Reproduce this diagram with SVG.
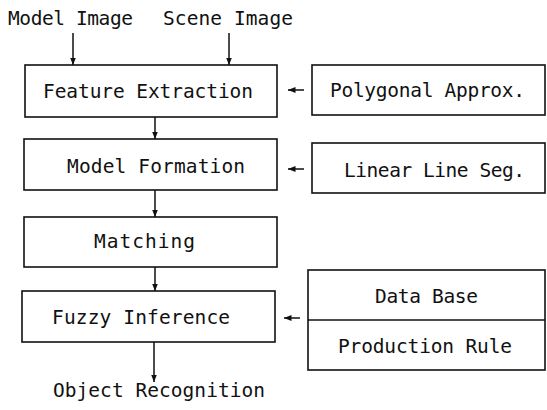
<svg xmlns="http://www.w3.org/2000/svg" width="547" height="410" viewBox="0 0 547 410">
  <style>
    .box { fill: #fff; stroke: #111; stroke-width: 1.6; }
    .lbl { font-family: "DejaVu Sans Mono", "Liberation Mono", monospace; font-size: 19.5px; fill: #111; }
    .edge { stroke: #111; stroke-width: 1.5; fill: none; }
  </style>
  <defs>
    <marker id="arr" viewBox="0 0 10 10" refX="10" refY="5" markerWidth="5" markerHeight="5" orient="auto" markerUnits="strokeWidth">
      <path d="M0,1 L10,5 L0,9 Z" fill="#111"/>
    </marker>
  </defs>
  <rect width="547" height="410" fill="#fff"/>

  <g id="inputs">
    <text class="lbl" x="8" y="25" textLength="125" lengthAdjust="spacing">Model Image</text>
    <text class="lbl" x="163" y="25" textLength="130" lengthAdjust="spacing">Scene Image</text>
  </g>

  <g id="feature-extraction">
    <rect class="box" x="25" y="65" width="252" height="52"/>
    <text class="lbl" x="43" y="98" textLength="210" lengthAdjust="spacing">Feature Extraction</text>
  </g>
  <g id="polygonal-approx">
    <rect class="box" x="312" y="65" width="233" height="50"/>
    <text class="lbl" x="330" y="97" textLength="195" lengthAdjust="spacing">Polygonal Approx.</text>
  </g>
  <g id="model-formation">
    <rect class="box" x="24" y="139" width="253" height="51"/>
    <text class="lbl" x="67" y="173" textLength="178" lengthAdjust="spacing">Model Formation</text>
  </g>
  <g id="linear-line-seg">
    <rect class="box" x="312" y="143" width="233" height="50"/>
    <text class="lbl" x="344" y="177" textLength="181" lengthAdjust="spacing">Linear Line Seg.</text>
  </g>
  <g id="matching">
    <rect class="box" x="24" y="217" width="253" height="50"/>
    <text class="lbl" x="94" y="248" textLength="101" lengthAdjust="spacing">Matching</text>
  </g>
  <g id="fuzzy-inference">
    <rect class="box" x="22" y="291" width="253" height="51"/>
    <text class="lbl" x="52" y="324" textLength="178" lengthAdjust="spacing">Fuzzy Inference</text>
  </g>
  <g id="knowledge">
    <rect class="box" x="308" y="270" width="237" height="100"/>
    <line class="edge" x1="308" y1="320" x2="545" y2="320"/>
    <text class="lbl" x="375" y="303" textLength="103" lengthAdjust="spacing">Data Base</text>
    <text class="lbl" x="338" y="353" textLength="174" lengthAdjust="spacing">Production Rule</text>
  </g>
  <g id="output">
    <text class="lbl" x="53" y="397" textLength="212" lengthAdjust="spacing">Object Recognition</text>
  </g>

  <g id="connectors">
    <line class="edge" x1="73" y1="33" x2="73" y2="65" marker-end="url(#arr)"/>
    <line class="edge" x1="229" y1="33" x2="229" y2="65" marker-end="url(#arr)"/>
    <line class="edge" x1="155" y1="117" x2="155" y2="139" marker-end="url(#arr)"/>
    <line class="edge" x1="155" y1="190" x2="155" y2="217" marker-end="url(#arr)"/>
    <line class="edge" x1="155" y1="267" x2="155" y2="291" marker-end="url(#arr)"/>
    <line class="edge" x1="154" y1="342" x2="154" y2="382" marker-end="url(#arr)"/>
    <line class="edge" x1="304" y1="90" x2="288" y2="90" marker-end="url(#arr)"/>
    <line class="edge" x1="304" y1="169" x2="288" y2="169" marker-end="url(#arr)"/>
    <line class="edge" x1="300" y1="318" x2="284" y2="318" marker-end="url(#arr)"/>
  </g>
</svg>
